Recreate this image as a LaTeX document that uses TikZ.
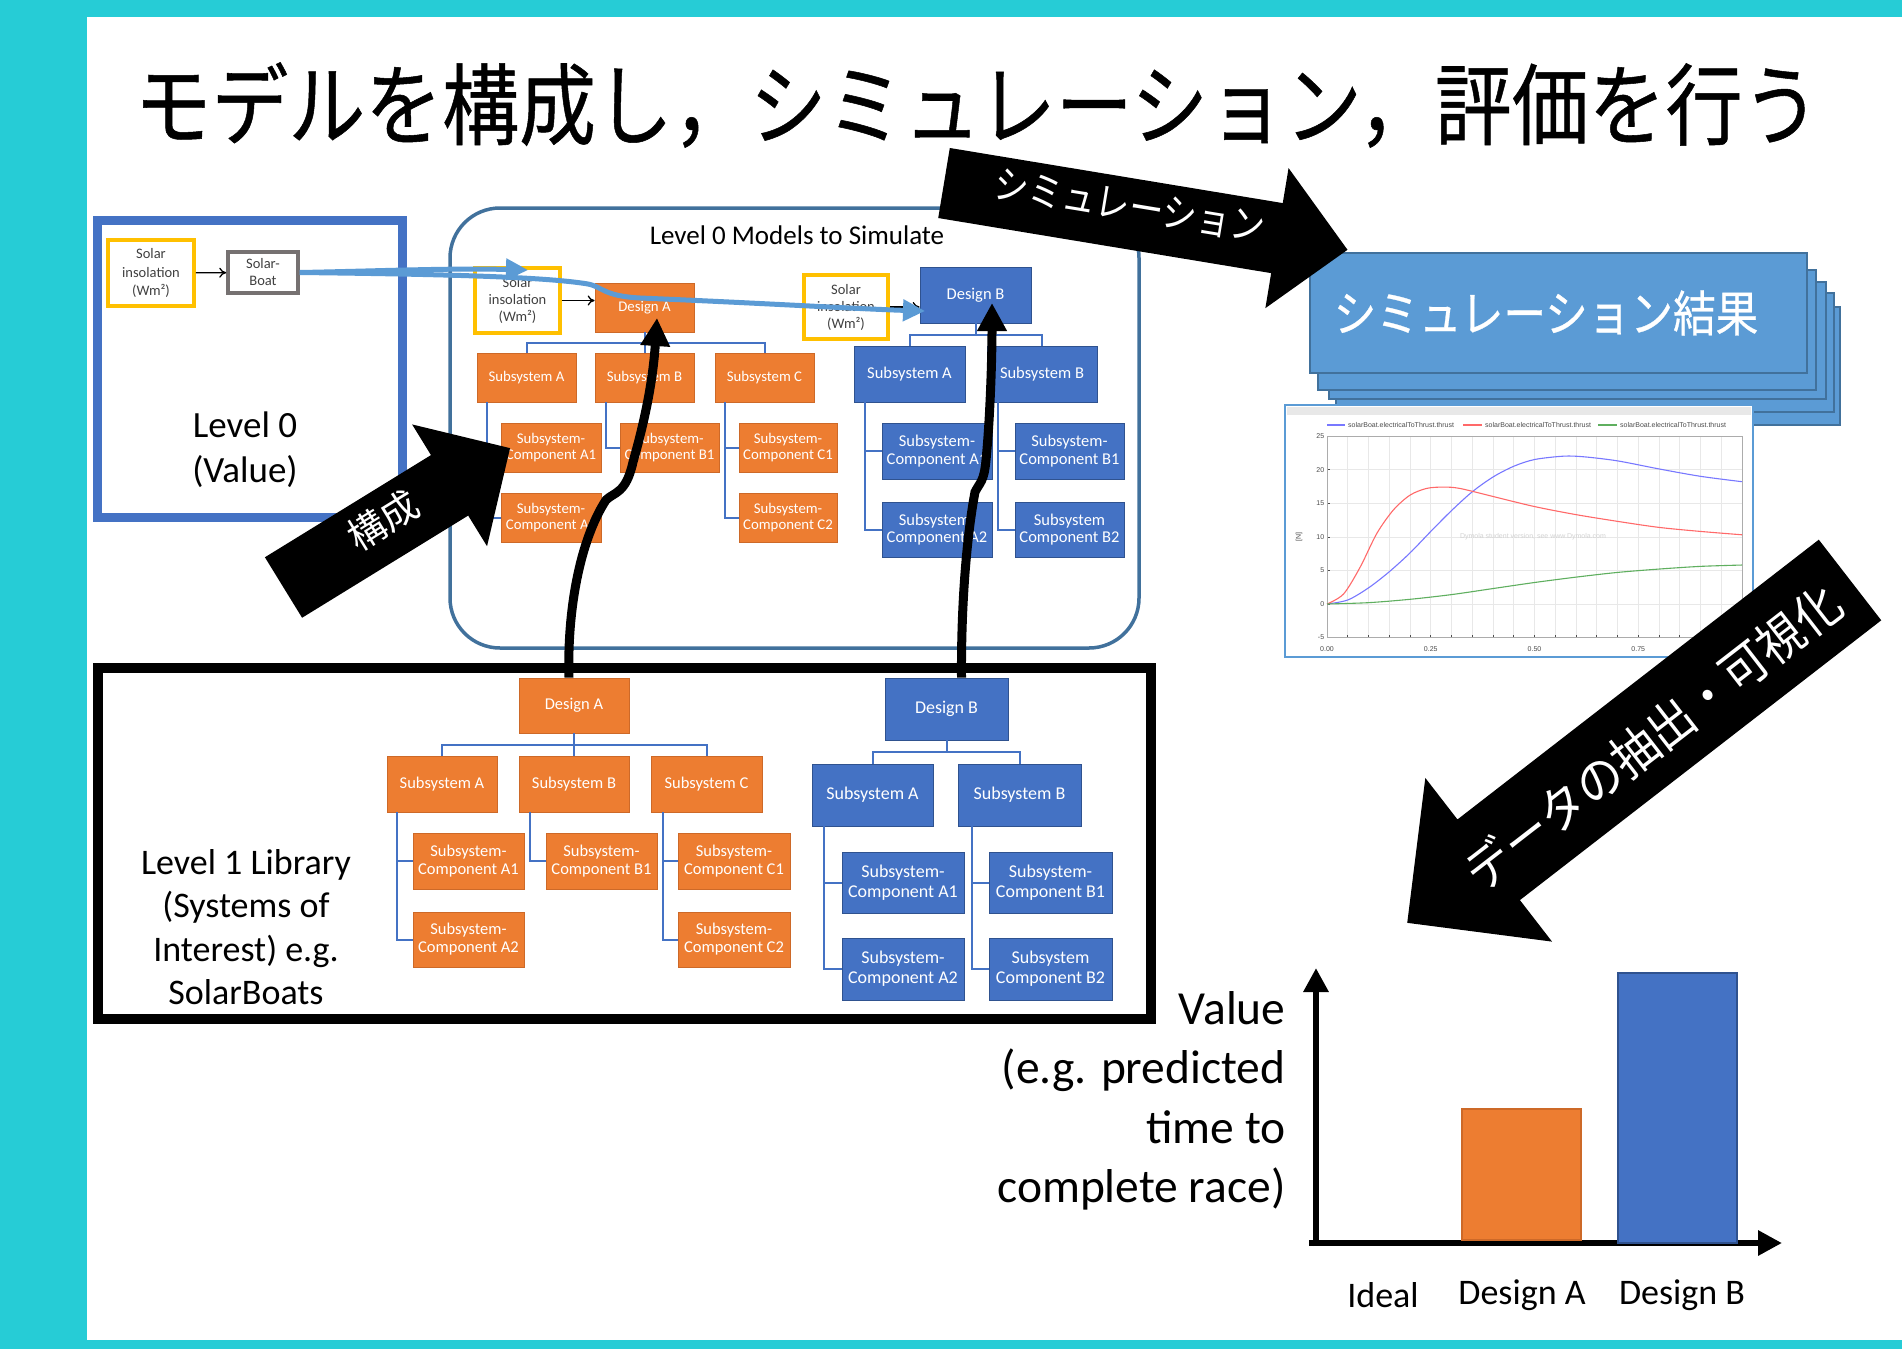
\documentclass[tikz,border=0pt]{standalone}
\usepackage{fontspec}
\setmainfont{Carlito}
\newfontfamily\jp{Noto Sans CJK JP}
\newfontfamily\jpb[FakeBold=0.6]{Noto Sans CJK JP}
\newfontfamily\arialf{Liberation Sans}
\usetikzlibrary{arrows.meta,calc}
\definecolor{cyanbg}{RGB}{38,204,214}
\definecolor{oran}{RGB}{237,125,49}
\definecolor{orandk}{RGB}{205,105,40}
\definecolor{blu}{RGB}{68,114,196}
\definecolor{bludk}{RGB}{47,82,143}
\definecolor{ltblu}{RGB}{91,155,213}
\definecolor{steel}{RGB}{65,113,156}
\definecolor{gold}{RGB}{255,192,0}
\definecolor{txtgray}{RGB}{64,64,64}
\definecolor{gryb}{RGB}{118,113,113}
\definecolor{cBlue}{RGB}{120,120,255}
\definecolor{cRed}{RGB}{255,105,105}
\definecolor{cGreen}{RGB}{95,175,95}
\newcommand\fs[2]{\fontsize{#1}{#2}\selectfont}
\newcommand\bx[7]{\node[#1, minimum width={(#5)-(#3)}, minimum height={(#6)-(#4)}] (#2) at ({((#3)+(#5))/2},{((#4)+(#6))/2}) {#7};}
\newcommand\blockarrow[7]{\fill[black, shift={(#1,#2)}, rotate=#3] (0,{-(#5)/2}) -- ({(#4)-(#7)},{-(#5)/2}) -- ({(#4)-(#7)},{-(#6)/2}) -- (#4,0) -- ({(#4)-(#7)},{(#6)/2}) -- ({(#4)-(#7)},{(#5)/2}) -- (0,{(#5)/2}) -- cycle;}
\begin{document}
\begin{tikzpicture}[x=1pt,y=-1pt,
  box/.style={inner sep=0pt, align=center, text=white, line width=0.8pt},
  ob/.style={box, fill=oran, draw=orandk},
  bb/.style={box, fill=blu, draw=bludk},
  yb/.style={inner sep=0pt, align=center, text=txtgray, draw=gold, line width=3.5pt, fill=white},
  toA/.style={ob, font=\fs{14.8}{16.7}},
  toB/.style={bb, font=\fs{16.5}{17.7}},
  boA/.style={ob, font=\fs{16.5}{18}},
  boB/.style={bb, font=\fs{18}{20}},
  conn/.style={draw=blu, line width=2pt},
  curv/.style={draw=black, line width=9pt, -{Triangle[length=28pt,width=28pt]}},
  flow/.style={draw=ltblu, line width=5pt, -{Triangle[length=22pt,width=21pt]}},
  sim/.style={fill=ltblu, draw=steel, line width=2.5pt},
  axisar/.style={draw=black, line width=6pt, -{Triangle[length=24pt,width=24pt]}},
  tick/.style={font=\arialf\fs{7}{8}, text=gray!60!black, inner sep=1pt},
  leg/.style={font=\arialf\fs{7}{8}, text=gray!60!black, inner sep=1pt}
]
\useasboundingbox (0,0) rectangle (1902,1349);
\fill[cyanbg] (0,0) rectangle (1902,1349);
\fill[white] (87,17) rectangle (1902,1340);

% title
\node[font=\jpb\fs{89}{100}] (title) at (977,105) {\scalebox{0.864}[1]{モデルを構成し，シミュレーション，評価を行う}};

% Level 0 box
\bx{draw=blu, line width=9pt}{lv0}{97}{220}{402}{517}{}
\bx{yb, font=\fs{14.5}{18.3}}{y0}{108}{240}{194}{306}{Solar\\insolation\\(Wm²)}
\bx{draw=gryb, line width=3.5pt, fill=white, inner sep=0pt, align=center, text=txtgray, font=\fs{14.5}{17}}{boat}{228}{252}{298}{293}{Solar-\\Boat}
\draw[-{To[length=7pt,width=10pt]}, line width=1.3pt] (y0) -- (boat);
\node[font=\fs{37}{45}, align=center] (lv0txt) at (245,450) {Level 0\\(Value)};

% Level 0 models box
\bx{draw=steel, line width=3.5pt, rounded corners=50pt}{models}{450}{208}{1139}{648}{}
\node[font=\fs{27}{30}] (mtitle) at (797,235) {Level 0 Models to Simulate};

% top tree A
\bx{yb, font=\fs{14.5}{17}}{ty1}{475}{268}{560}{333}{Solar\\insolation\\(Wm²)}
\bx{toA}{tdA}{595}{283}{694}{332}{Design A}
\draw[-{To[length=7pt,width=10pt]}, line width=1.3pt] (ty1.east) -- (ty1.east -| tdA.west);
\bx{toA}{tsA}{477}{353}{576}{402}{Subsystem A}
\bx{toA}{tsB}{595}{353}{694}{402}{Subsystem B}
\bx{toA}{tsC}{715}{353}{814}{402}{Subsystem C}
\bx{toA}{tcA1}{501}{423}{601}{472}{Subsystem-\\Component A1}
\bx{toA}{tcB1}{620}{423}{719}{472}{Subsystem-\\Component B1}
\bx{toA}{tcC1}{739}{423}{837}{472}{Subsystem-\\Component C1}
\bx{toA}{tcA2}{501}{493}{601}{542}{Subsystem-\\Component A2}
\bx{toA}{tcC2}{739}{493}{837}{542}{Subsystem-\\Component C2}
\coordinate (tbA) at (644.5,343);
\draw[conn] (tdA.south) -- (tbA);
\draw[conn] (tsA.north) |- (tbA) -| (tsC.north);
\draw[conn] (tbA) -- (tsB.north);
\draw[conn] ($(tsA.south west)+(10,0)$) |- (tcA1.west);
\draw[conn] ($(tsA.south west)+(10,0)$) |- (tcA2.west);
\draw[conn] ($(tsB.south west)+(11,0)$) |- (tcB1.west);
\draw[conn] ($(tsC.south west)+(10,0)$) |- (tcC1.west);
\draw[conn] ($(tsC.south west)+(10,0)$) |- (tcC2.west);

% top tree B
\bx{yb, font=\fs{14.5}{17}}{ty2}{804}{275}{888}{339}{Solar\\insolation\\(Wm²)}
\bx{toB}{tdB}{920}{267}{1031}{323}{Design B}
\draw[-{To[length=7pt,width=10pt]}, line width=1.3pt] (ty2.east) -- (ty2.east -| tdB.west);
\bx{toB}{tbsA}{854}{346}{965}{402}{Subsystem A}
\bx{toB}{tbsB}{987}{346}{1097}{402}{Subsystem B}
\bx{toB}{tbcA1}{882}{423}{992}{479}{Subsystem-\\Component A1}
\bx{toB}{tbcB1}{1015}{423}{1124}{479}{Subsystem-\\Component B1}
\bx{toB}{tbcA2}{882}{502}{992}{557}{Subsystem-\\Component A2}
\bx{toB}{tbcB2}{1015}{502}{1124}{557}{Subsystem\\Component B2}
\coordinate (tbB) at (975.5,335);
\draw[conn] (tdB.south) -- (tbB);
\draw[conn] (tbsA.north) |- (tbB) -| (tbsB.north);
\draw[conn] ($(tbsA.south west)+(11,0)$) |- (tbcA1.west);
\draw[conn] ($(tbsA.south west)+(11,0)$) |- (tbcA2.west);
\draw[conn] ($(tbsB.south west)+(11,0)$) |- (tbcB1.west);
\draw[conn] ($(tbsB.south west)+(11,0)$) |- (tbcB2.west);

% Level 1 library box
\bx{draw=black, line width=10pt}{lib}{98}{668}{1151}{1019}{}
\node[font=\fs{36}{43.5}, align=center] (libtxt) at (246,927) {Level 1 Library\\(Systems of\\Interest) e.g.\\SolarBoats};

% bottom tree A
\bx{boA}{bdA}{519}{678}{629}{733}{Design A}
\bx{boA}{bsA}{387}{756}{497}{812}{Subsystem A}
\bx{boA}{bsB}{519}{756}{629}{812}{Subsystem B}
\bx{boA}{bsC}{651}{756}{762}{812}{Subsystem C}
\bx{boA}{bcA1}{413}{833}{524}{889}{Subsystem-\\Component A1}
\bx{boA}{bcB1}{546}{833}{657}{889}{Subsystem-\\Component B1}
\bx{boA}{bcC1}{678}{833}{790}{889}{Subsystem-\\Component C1}
\bx{boA}{bcA2}{413}{912}{524}{967}{Subsystem-\\Component A2}
\bx{boA}{bcC2}{678}{912}{790}{967}{Subsystem-\\Component C2}
\coordinate (bbA) at (574,745);
\draw[conn] (bdA.south) -- (bbA);
\draw[conn] (bsA.north) |- (bbA) -| (bsC.north);
\draw[conn] (bbA) -- (bsB.north);
\draw[conn] ($(bsA.south west)+(10,0)$) |- (bcA1.west);
\draw[conn] ($(bsA.south west)+(10,0)$) |- (bcA2.west);
\draw[conn] ($(bsB.south west)+(11,0)$) |- (bcB1.west);
\draw[conn] ($(bsC.south west)+(12,0)$) |- (bcC1.west);
\draw[conn] ($(bsC.south west)+(12,0)$) |- (bcC2.west);

% bottom tree B
\bx{boB}{bdB}{885}{678}{1008}{740}{Design B}
\bx{boB}{bbsA}{812}{764}{933}{826}{Subsystem A}
\bx{boB}{bbsB}{958}{764}{1081}{826}{Subsystem B}
\bx{boB}{bbcA1}{842}{852}{964}{913}{Subsystem-\\Component A1}
\bx{boB}{bbcB1}{989}{852}{1112}{913}{Subsystem-\\Component B1}
\bx{boB}{bbcA2}{842}{938}{964}{1000}{Subsystem-\\Component A2}
\bx{boB}{bbcB2}{989}{938}{1112}{1000}{Subsystem\\Component B2}
\coordinate (bbB) at (946.5,752);
\draw[conn] (bdB.south) -- (bbB);
\draw[conn] (bbsA.north) |- (bbB) -| (bbsB.north);
\draw[conn] ($(bbsA.south west)+(12,0)$) |- (bbcA1.west);
\draw[conn] ($(bbsA.south west)+(12,0)$) |- (bbcA2.west);
\draw[conn] ($(bbsB.south west)+(14,0)$) |- (bbcB1.west);
\draw[conn] ($(bbsB.south west)+(14,0)$) |- (bbcB2.west);

% black curved arrows
\coordinate (tipA) at (657,318);
\coordinate (tipB) at (992,303);
\draw[curv] ($(bdA.north)+(-5,0)$) .. controls (567,610) and (580,540) .. (606,500) .. controls (614,492) and (626,494) .. (633,462) .. controls (645,420) and (653,380) .. (tipA);
\draw[curv] ($(bdB.north)+(15,0)$) .. controls (961,610) and (966,540) .. (975,492) .. controls (980,482) and (984,482) .. (986,460) .. controls (990,420) and (992,360) .. (tipB);

% blue flow arrows
\coordinate (ftip1) at (528,270);
\coordinate (ftip2) at (925,311);
\draw[flow] (boat.east) .. controls (380,271) and (450,268) .. (ftip1);
\draw[flow] (boat.east) .. controls (420,274) and (540,276) .. (588,284) .. controls (603,287) and (603,296) .. (640,298) .. controls (760,303) and (860,309) .. (ftip2);

% simulation results stack
\bx{sim}{s5}{1342}{307}{1840}{425}{}
\bx{sim}{s4}{1336}{293}{1834}{412}{}
\bx{sim}{s3}{1329}{282}{1826}{399}{}
\bx{sim}{s2}{1318}{270}{1816}{390}{}
\bx{sim}{s1}{1310}{253}{1807}{373}{}
\node[font=\jpb\fs{49}{55}, text=white] (simtxt) at (1546,313) {\scalebox{0.87}[1]{シミュレーション結果}};

% graph panel
\bx{draw=ltblu, line width=2.5pt, fill=white}{panel}{1285}{405}{1753}{657}{}
\fill[gray!18] (1287,407) rectangle (1751,415);
\begin{scope}[shift={(1327,604)}, x=415pt, y=6.72pt]
  \foreach \i in {0,...,20} \draw[gray!18, line width=0.6pt] ({\i/20},-5) -- ({\i/20},25);
  \foreach \v in {-5,0,5,10,15,20,25} \draw[gray!18, line width=0.6pt] (0,\v) -- (1,\v);
  \foreach \i in {0,...,20} \draw[gray!60!black, line width=0.6pt] ({\i/20},-5) -- ++(0,0.45);
  \foreach \v in {-5,0,5,10,15,20,25} \draw[gray!60!black, line width=0.6pt] (0,\v) -- ++(0.008,0);
  \draw[gray!65, line width=1pt] (0,-5) rectangle (1,25);
  \foreach \v [count=\k] in {-5,0,5,10,15,20,25} \node[tick, anchor=east] (yl\k) at (-0.004,\v) {\v};
  \foreach \t/\l [count=\k] in {0/0.00,0.25/0.25,0.5/0.50,0.75/0.75} \node[tick, anchor=north] (xl\k) at (\t,-6.1) {\l};
  \draw[cBlue, line width=1.1pt] plot[smooth] coordinates {(0,0) (0.05,0.6) (0.1,2.4) (0.15,4.8) (0.2,7.6) (0.25,10.8) (0.3,13.9) (0.35,16.7) (0.4,18.9) (0.45,20.5) (0.5,21.5) (0.57,22) (0.62,21.9) (0.7,21.3) (0.8,20.1) (0.9,19) (1,18.2)};
  \draw[cRed, line width=1.1pt] plot[smooth] coordinates {(0,0) (0.04,1.5) (0.08,5.5) (0.12,10.5) (0.16,14) (0.2,16.2) (0.24,17.2) (0.28,17.4) (0.32,17.2) (0.4,16) (0.5,14.5) (0.6,13.3) (0.7,12.3) (0.8,11.4) (0.9,10.8) (1,10.3)};
  \draw[cGreen, line width=1.1pt] plot[smooth] coordinates {(0,0) (0.1,0.2) (0.2,0.7) (0.3,1.4) (0.4,2.3) (0.5,3.2) (0.6,4.0) (0.7,4.7) (0.8,5.2) (0.9,5.6) (1,5.8)};
\end{scope}
\node[tick, rotate=90] (ylab) at (1299,537) {[N]};
\node[font=\arialf\fs{7}{8}, text=gray!35] (wm) at (1533,537) {Dymola student version, see www.Dymola.com};
\draw[cBlue, line width=1.1pt] (1327,425) -- (1345,425);
\node[leg, anchor=west] (lg1) at (1347,425) {solarBoat.electricalToThrust.thrust};
\draw[cRed, line width=1.1pt] (1463,425) -- (1482,425);
\node[leg, anchor=west] (lg2) at (1484,425) {solarBoat.electricalToThrust.thrust};
\draw[cGreen, line width=1.1pt] (1598,425) -- (1617,425);
\node[leg, anchor=west] (lg3) at (1619,425) {solarBoat.electricalToThrust.thrust};

% bar chart
\coordinate (ybot) at (1316,1246);
\coordinate (ytip) at (1316,968);
\coordinate (xst) at (1309,1243);
\coordinate (xtip) at (1782,1243);
\draw[axisar] (ybot) -- (ytip);
\draw[axisar] (xst) -- (xtip);
\bx{fill=oran, draw=orandk, line width=1.5pt}{barA}{1462}{1109}{1581}{1240}{}
\bx{fill=blu, draw=bludk, line width=1.5pt}{barB}{1618}{973}{1737}{1243}{}
\node[font=\fs{36}{40}] (lIdeal) at (1383,1295) {Ideal};
\node[font=\fs{36}{40}] (lA) at (1522,1295) {Design A};
\node[font=\fs{36}{40}] (lB) at (1682,1295) {Design B};
\node[font=\fs{47.5}{59.5}, align=right, anchor=east] (valtxt) at (1289,1101) {Value\\(e.g. predicted\\time to\\complete race)};

% big block arrows
\blockarrow{283.5}{587.5}{31.6}{266}{71}{143}{71}
\blockarrow{944}{183}{-9.4}{409}{71}{142}{71.5}
\blockarrow{1850}{580}{217.75}{560}{102}{207}{103}
\node[rotate=31.6, font=\jp\fs{38}{40}, text=white] (kousei) at (383,520) {構成};
\node[rotate=-9.4, font=\jp\fs{40}{44}, text=white] (simlbl) at (1130,206) {\scalebox{0.86}[1]{シミュレーション}};
\node[rotate=37.75, font=\jp\fs{50}{55}, text=white] (datalbl) at (1653,737) {\scalebox{0.92}[1]{データの抽出・可視化}};
\end{tikzpicture}
\end{document}
